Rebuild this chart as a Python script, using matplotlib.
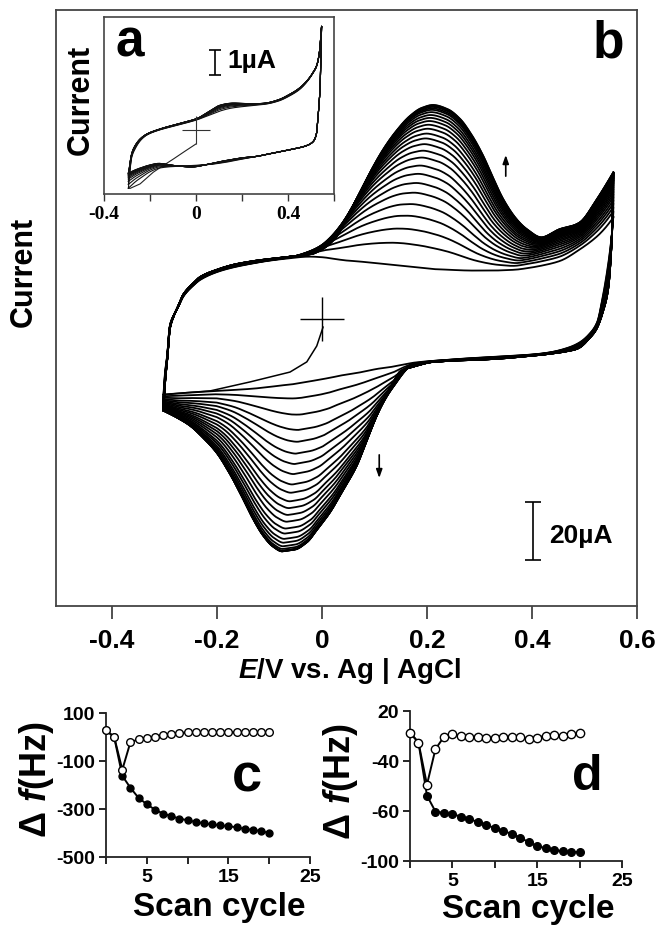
import matplotlib
matplotlib.use('Agg')
import matplotlib.pyplot as plt
import numpy as np

plt.rcParams['font.family'] = ['Liberation Sans', 'DejaVu Sans']
plt.rcParams['font.weight'] = 'bold'
plt.rcParams['axes.unicode_minus'] = False
plt.rcParams['mathtext.fontset'] = 'custom'
plt.rcParams['mathtext.it'] = 'Liberation Sans:italic:bold'
plt.rcParams['mathtext.rm'] = 'Liberation Sans:bold'

W, H = 657, 929

# ---------------- panel b : CV, forward (anodic) branch ----------------
A_E = [-0.302, -0.299, -0.295, -0.290, -0.283, -0.276, -0.264, -0.246, -0.232, -0.200,
       -0.169, -0.137, -0.105, -0.074, -0.023, 0.000, 0.028, 0.045, 0.066, 0.090,
       0.117, 0.140, 0.168, 0.190, 0.213, 0.240, 0.263, 0.285, 0.307, 0.325,
       0.345, 0.368, 0.390, 0.421, 0.453, 0.491, 0.524, 0.540, 0.555]
A_first = [-26.0, -18.4, -12.8, -2.4, 1.1, 3.4, 7.8, 11.4, 13.5, 16.2,
           17.8, 19.0, 20.0, 20.7, 21.5, 21.3, 20.6, 20.2, 19.9, 19.5,
           19.0, 18.6, 18.0, 17.6, 17.2, 17.0, 16.8, 16.7, 16.7, 16.7,
           16.8, 17.0, 17.5, 18.5, 20.0, 24.0, 28.5, 31.5, 35.0]
A_last = [-31.6, -22.0, -14.5, -3.5, 0.8, 3.6, 8.5, 12.2, 14.5, 17.0,
          18.7, 19.8, 20.6, 21.2, 22.3, 24.0, 28.5, 34.0, 41.4, 50.0,
          58.6, 64.5, 70.1, 72.8, 73.8, 72.3, 69.0, 63.5, 56.3, 49.0,
          41.4, 35.0, 31.0, 28.2, 31.0, 33.3, 41.4, 46.0, 50.6]

# reverse (cathodic) branch, E decreasing
C_E = [0.555, 0.552, 0.545, 0.535, 0.524, 0.510, 0.491, 0.470, 0.434, 0.403,
       0.350, 0.307, 0.244, 0.212, 0.180, 0.150, 0.136, 0.120, 0.104, 0.085,
       0.066, 0.040, 0.015, -0.007, -0.029, -0.052, -0.074, -0.093, -0.112, -0.131,
       -0.150, -0.175, -0.201, -0.226, -0.251, -0.276, -0.302]
C_first = [35.0, 29.0, 19.0, 8.0, -1.1, -5.0, -8.0, -9.8, -11.5, -12.2,
           -12.8, -13.2, -14.0, -14.4, -14.9, -15.5, -15.8, -16.0, -16.3, -16.9,
           -17.4, -18.0, -18.8, -19.5, -20.2, -21.0, -21.6, -22.2, -22.8, -23.3,
           -23.7, -24.1, -24.5, -24.8, -25.1, -25.5, -26.0]
C_last = [50.6, 27.6, 10.3, 2.5, -3.0, -6.5, -9.8, -11.0, -12.0, -12.6,
          -13.5, -14.0, -14.4, -14.8, -16.1, -18.0, -21.8, -27.0, -33.3, -42.0,
          -50.6, -59.0, -66.7, -72.0, -77.0, -79.5, -80.1, -78.5, -74.7, -69.0,
          -62.1, -53.5, -46.0, -41.0, -36.8, -34.0, -31.6]

# first half scan from 0 V to the negative vertex
S_E = [0.002, -0.010, -0.029, -0.061, -0.137, -0.213, -0.302]
S_I = [-2.8, -9.3, -14.8, -18.3, -21.7, -24.8, -26.0]

# peak currents of each cycle (uA)
anodic_peak = [17.5, 25.3, 30.4, 35.0, 39.1, 43.1, 46.5, 49.7, 52.6, 55.4, 57.8, 60.1, 62.1,
               63.8, 65.5, 66.9, 68.2, 69.3, 70.3, 71.3, 72.1, 72.6, 73.1, 73.4, 73.7, 73.8]
cathodic_peak = [-23.0, -28.2, -33.9, -39.1, -43.1, -47.1, -50.6, -54.0, -57.5, -60.3, -63.2,
                 -65.5, -67.8, -70.1, -72.4, -74.1, -75.9, -77.2, -78.4, -79.3, -79.9,
                 -80.0, -80.0, -80.1, -80.1, -80.1]
cathodic_base = -21.5

# ---------------- panel a : inset CV ----------------
IA_E = [-0.294, -0.290, -0.287, -0.280, -0.265, -0.240, -0.214, -0.170, -0.128, -0.060,
        0.003, 0.050, 0.104, 0.150, 0.206, 0.260, 0.307, 0.360, 0.409, 0.450,
        0.481, 0.505, 0.525, 0.537, 0.546]
IA_first = [-2.3, -1.9, -1.6, -1.1, -0.75, -0.4, -0.2, -0.03, 0.08, 0.24,
            0.40, 0.56, 0.75, 0.86, 0.93, 0.98, 1.03, 1.15, 1.36, 1.60,
            1.89, 2.20, 2.54, 3.10, 4.10]
IA_last = [-1.7, -1.5, -1.3, -0.95, -0.62, -0.33, -0.16, 0.0, 0.12, 0.28,
           0.45, 0.70, 0.98, 1.06, 1.05, 1.04, 1.07, 1.20, 1.42, 1.66,
           1.93, 2.22, 2.56, 3.10, 4.10]
IC_E = [0.546, 0.540, 0.530, 0.525, 0.510, 0.480, 0.423, 0.350, 0.278, 0.200,
        0.133, 0.060, -0.012, -0.080, -0.157, -0.200, -0.229, -0.260, -0.294]
IC_first = [4.10, 1.80, 0.45, -0.09, -0.45, -0.62, -0.75, -0.88, -1.02, -1.15,
            -1.27, -1.36, -1.40, -1.43, -1.50, -1.65, -1.82, -2.02, -2.30]
IC_last = [4.10, 1.80, 0.45, -0.09, -0.45, -0.62, -0.75, -0.88, -1.02, -1.10,
           -1.20, -1.34, -1.46, -1.42, -1.32, -1.38, -1.46, -1.56, -1.70]
IS_E = [0.0, -0.05, -0.099, -0.150, -0.186, -0.243, -0.287, -0.294]
IS_I = [-0.55, -0.85, -1.15, -1.45, -1.67, -2.13, -2.31, -2.30]
inset_frac = [0, 0.25, 0.45, 0.6, 0.7, 0.78, 0.84, 0.88, 0.92, 0.95, 0.97, 0.99, 1.0]

# ---------------- panels c, d ----------------
cycle = list(range(0, 21))
c_filled = [28, 0, -162, -212, -254, -280, -303, -319, -330, -340, -347, -354, -360,
            -364, -368, -372, -376, -383, -387, -392, -400]
c_hollow = [28, 0, -136, -21, -10, -4, 0, 7, 14, 17, 19, 19, 19, 19, 19, 20, 19, 19,
            19, 19, 19]
d_filled = [2.7, -5.2, -47.7, -60.4, -61.5, -62.6, -64.4, -66.3, -68.9, -71.1, -73.7,
            -76.1, -78.2, -81.4, -84.9, -88.1, -89.7, -91.0, -92.3, -92.8, -92.8]
d_hollow = [2.7, -5.2, -38.9, -10.5, -0.7, 1.4, 0.1, -0.4, -0.7, -1.2, -1.2, -0.7,
            -0.4, -0.7, -2.0, -1.2, 0.1, 0.6, 0.1, 1.4, 2.2]
d_ticks = [-100, -60, -20, 20]
d_ticklabels = ['-100', '-60', '-40', '20']


def pchip(x, y, xn):
    x = np.asarray(x, float)
    y = np.asarray(y, float)
    if x[0] > x[-1]:
        x, y = x[::-1], y[::-1]
    h = np.diff(x)
    d = np.diff(y) / h
    m = np.zeros_like(y)
    for k in range(1, len(x) - 1):
        if d[k - 1] * d[k] > 0:
            w1 = 2 * h[k] + h[k - 1]
            w2 = h[k] + 2 * h[k - 1]
            m[k] = (w1 + w2) / (w1 / d[k - 1] + w2 / d[k])
    m[0], m[-1] = d[0], d[-1]
    xn = np.clip(xn, x[0], x[-1])
    i = np.clip(np.searchsorted(x, xn) - 1, 0, len(h) - 1)
    t = (xn - x[i]) / h[i]
    return ((2 * t**3 - 3 * t**2 + 1) * y[i] + (t**3 - 2 * t**2 + t) * h[i] * m[i]
            + (-2 * t**3 + 3 * t**2) * y[i + 1] + (t**3 - t**2) * h[i] * m[i + 1])


def cycle_curve(EA, EC, a_e, a0, a1, c_e, c0, c1, fa, fc, sa, sc, wa, wc):
    da = np.array(a1) - np.array(a0)
    dc = np.array(c1) - np.array(c0)
    ia = pchip(a_e, a0, EA) + fa * pchip(a_e, da, EA - sa * wa)
    ic = pchip(c_e, c0, EC) + fc * pchip(c_e, dc, EC - sc * wc)
    return np.concatenate([EA, EC]), np.concatenate([ia, ic])


fig = plt.figure(figsize=(W / 100, H / 100), dpi=100)

# ---------------- main panel b ----------------
ax = fig.add_axes([56 / W, 1 - 607 / H, 581 / W, 596 / H])
EA = np.linspace(A_E[0], A_E[-1], 1200)
EC = np.linspace(C_E[0], C_E[-1], 1200)
wa = np.interp(EA, [-0.31, -0.22, -0.12, 0.38, 0.46, 0.56], [0, 0, 1, 1, 0, 0])
wc = np.interp(EC, [-0.31, -0.27, -0.20, 0.14, 0.22, 0.56], [0, 0, 1, 1, 0, 0])
fa = (np.array(anodic_peak) - anodic_peak[0]) / (anodic_peak[-1] - anodic_peak[0])
fc = (np.array(cathodic_peak) - cathodic_base) / (cathodic_peak[-1] - cathodic_base)

ax.plot(S_E, S_I, color='k', lw=1.1)
for k in range(len(fa)):
    e, i = cycle_curve(EA, EC, A_E, A_first, A_last, C_E, C_first, C_last,
                       fa[k], fc[k], -0.06 * (1 - fa[k]), 0.05 * (1 - fc[k]), wa, wc)
    ax.plot(e, i, color='k', lw=1.3)

ax.plot(0, 0, marker='+', ms=32, mew=1.0, color='k')
ax.errorbar(0.402, -73.1, yerr=10, color='k', lw=1.2, capsize=6, capthick=1.2)
ax.text(0.432, -74.5, '20µA', fontsize=19, fontweight='bold', va='center', ha='left')
ax.annotate('', xy=(0.350, 57.5), xytext=(0.350, 48.3),
            arrowprops=dict(arrowstyle='-|>,head_length=0.5,head_width=0.18', color='k', lw=1.2))
ax.annotate('', xy=(0.109, -55.8), xytext=(0.109, -45.9),
            arrowprops=dict(arrowstyle='-|>,head_length=0.5,head_width=0.18', color='k', lw=1.2))

ax.set_xlim(-0.5067, 0.6)
ax.set_ylim(-98.97, 106.55)
ax.set_xticks([-0.4, -0.2, 0, 0.2, 0.4, 0.6])
ax.set_xticklabels(['-0.4', '-0.2', '0', '0.2', '0.4', '0.6'])
ax.set_yticks([])
ax.tick_params(axis='x', direction='out', length=9, width=1.2, pad=7, labelsize=19,
               color='#333333')
for s in ax.spines.values():
    s.set_color('#444444')
    s.set_linewidth(1.3)

# ---------------- inset panel a ----------------
axi = fig.add_axes([104 / W, 1 - 195 / H, 230 / W, 177 / H])
axi.set_facecolor('white')
IEA = np.linspace(IA_E[0], IA_E[-1], 600)
IEC = np.linspace(IC_E[0], IC_E[-1], 600)
zero_a = np.zeros_like(IEA)
zero_c = np.zeros_like(IEC)
axi.plot(IS_E, IS_I, color='#222222', lw=0.8)
for f in inset_frac:
    e, i = cycle_curve(IEA, IEC, IA_E, IA_first, IA_last, IC_E, IC_first, IC_last,
                       f, f, 0.0, 0.0, zero_a, zero_c)
    axi.plot(e, i, color='#111111', lw=0.8)
axi.plot(0, 0, marker='+', ms=20, mew=0.8, color='#333333')
axi.errorbar(0.083, 2.67, yerr=0.5, color='k', lw=1.2, capsize=4, capthick=1.2)
axi.text(0.135, 2.77, '1µA', fontsize=19, fontweight='bold', va='center', ha='left')
axi.set_xlim(-0.4, 0.6)
axi.set_ylim(-2.53, 4.47)
axi.set_xticks([-0.4, -0.2, 0, 0.2, 0.4, 0.6])
axi.set_xticklabels(['-0.4', '', '0', '', '0.4', ''])
axi.set_yticks([])
axi.tick_params(axis='x', direction='out', length=5, width=1.0, pad=3, labelsize=14,
                color='#333333')
for lab in axi.get_xticklabels():
    lab.set_family('Liberation Serif')
    lab.set_fontweight('bold')
for s in axi.spines.values():
    s.set_color('#444444')
    s.set_linewidth(1.2)

fig.text(130 / W, 1 - 43 / H, 'a', fontsize=37, fontweight='bold', ha='center', va='center')
fig.text(608 / W, 1 - 44 / H, 'b', fontsize=37, fontweight='bold', ha='center', va='center')
fig.text(81 / W, 1 - 100 / H, 'Current', fontsize=22, fontweight='bold', rotation=90,
         ha='center', va='center')
fig.text(24 / W, 1 - 272 / H, 'Current', fontsize=22, fontweight='bold', rotation=90,
         ha='center', va='center')
fig.text(350 / W, 1 - 671 / H, r'$\mathit{E}$/V vs. Ag | AgCl', fontsize=20,
         fontweight='bold', ha='center', va='center')

# ---------------- panel c ----------------
axc = fig.add_axes([106 / W, 1 - 858 / H, 204 / W, 144 / H])
axc.plot(cycle, c_filled, '-o', color='k', lw=1.4, ms=5, mfc='k', clip_on=False, zorder=3)
axc.plot(cycle, c_hollow, '-o', color='k', lw=1.4, ms=5.5, mfc='white', mew=1.0,
         clip_on=False, zorder=4)
axc.set_xlim(0, 25)
axc.set_ylim(-500, 100)
axc.set_yticks([-500, -300, -100, 100])
axc.set_xticks([0, 5, 10, 15, 20, 25])
axc.set_xticklabels(['', '5', '', '15', '', '25'])

# ---------------- panel d ----------------
axd = fig.add_axes([410 / W, 1 - 862 / H, 212 / W, 150 / H])
axd.plot(cycle, d_filled, '-o', color='k', lw=1.4, ms=5.5, mfc='k', clip_on=False, zorder=3)
axd.plot(cycle, d_hollow, '-o', color='k', lw=1.4, ms=6, mfc='white', mew=1.0,
         clip_on=False, zorder=4)
axd.set_xlim(0, 25)
axd.set_ylim(-100, 20)
axd.set_yticks(d_ticks)
axd.set_yticklabels(d_ticklabels)
axd.set_xticks([0, 5, 10, 15, 20, 25])
axd.set_xticklabels(['', '5', '', '15', '', '25'])

for a in (axc, axd):
    a.spines['top'].set_visible(False)
    a.spines['right'].set_visible(False)
    for s in ('left', 'bottom'):
        a.spines[s].set_linewidth(1.3)
        a.spines[s].set_color('#222222')
    a.tick_params(direction='out', length=5, width=1.2, labelsize=14, pad=3)

fig.text(36 / W, 1 - 780 / H, r'Δ $\mathit{f}$(Hz)', fontsize=26, fontweight='bold',
         rotation=90, ha='center', va='center')
fig.text(340 / W, 1 - 782 / H, r'Δ $\mathit{f}$(Hz)', fontsize=26, fontweight='bold',
         rotation=90, ha='center', va='center')
fig.text(219 / W, 1 - 908 / H, 'Scan cycle', fontsize=24, fontweight='bold',
         ha='center', va='center')
fig.text(528 / W, 1 - 910 / H, 'Scan cycle', fontsize=24, fontweight='bold',
         ha='center', va='center')
fig.text(247 / W, 1 - 778 / H, 'c', fontsize=39, fontweight='bold', ha='center', va='center')
fig.text(587 / W, 1 - 777 / H, 'd', fontsize=36, fontweight='bold', ha='center', va='center')

fig.savefig('out.png', dpi=100)
